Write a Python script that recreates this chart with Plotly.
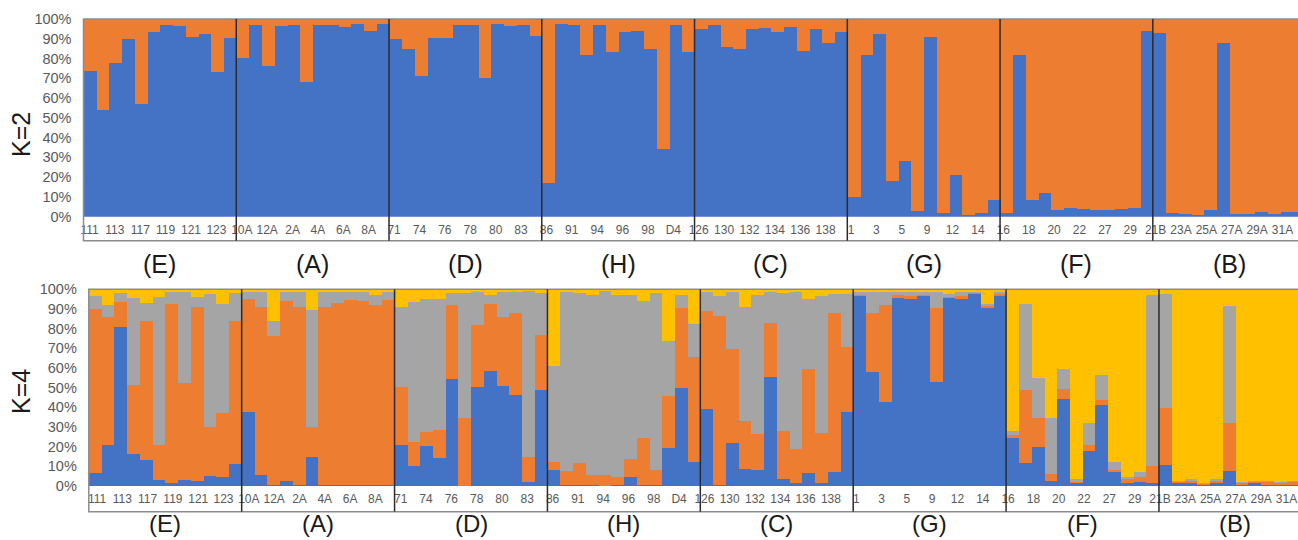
import plotly.graph_objects as go

# ---------------- data ----------------
groups = ["(E)", "(A)", "(D)", "(H)", "(C)", "(G)", "(F)", "(B)"]
group_size = [12, 12, 12, 12, 12, 12, 12, 12]

# tick labels (every second individual is labelled)
tick_labels = [
    "111", "113", "117", "119", "121", "123",
    "10A", "12A", "2A", "4A", "6A", "8A",
    "71", "74", "76", "78", "80", "83",
    "86", "91", "94", "96", "98", "D4",
    "126", "130", "132", "134", "136", "138",
    "1", "3", "5", "9", "12", "14",
    "16", "18", "20", "22", "27", "29",
    "21B", "23A", "25A", "27A", "29A", "31A",
]
y_tick_vals = [0, 10, 20, 30, 40, 50, 60, 70, 80, 90, 100]
y_tick_text = ["0%", "10%", "20%", "30%", "40%", "50%", "60%", "70%", "80%", "90%", "100%"]

# K=2 membership (%)
k2_cluster1 = [
    73.5, 54, 77.5, 90, 57, 93.5, 97, 96.5, 91, 92.5, 73, 90.5,
    80.5, 97, 76, 96.5, 97, 68, 97, 97, 96, 97.5, 94, 97.5,
    90, 85, 71, 90.5, 90.5, 97, 97, 70, 97.5, 96.5, 97, 91.5,
    17, 97.5, 97, 82, 97, 83.5, 93.5, 94, 85, 34, 97, 83.5,
    95, 97, 86, 85, 95, 95.5, 93.5, 96, 84, 95, 88, 93.5,
    10, 82, 92.5, 18, 28, 3, 91, 2, 21, 1, 2, 8.5,
    2, 82, 8.5, 12, 3.5, 4.5, 4, 3.5, 3.5, 4, 4.5, 94,
    93, 2, 1.5, 1, 3.5, 88, 1.5, 1.5, 2.5, 1.5, 2.5, 2.5,
]
k2_cluster2 = [
    26.5, 46, 22.5, 10, 43, 6.5, 3, 3.5, 9, 7.5, 27, 9.5,
    19.5, 3, 24, 3.5, 3, 32, 3, 3, 4, 2.5, 6, 2.5,
    10, 15, 29, 9.5, 9.5, 3, 3, 30, 2.5, 3.5, 3, 8.5,
    83, 2.5, 3, 18, 3, 16.5, 6.5, 6, 15, 66, 3, 16.5,
    5, 3, 14, 15, 5, 4.5, 6.5, 4, 16, 5, 12, 6.5,
    90, 18, 7.5, 82, 72, 97, 9, 98, 79, 99, 98, 91.5,
    98, 18, 91.5, 88, 96.5, 95.5, 96, 96.5, 96.5, 96, 95.5, 6,
    7, 98, 98.5, 99, 96.5, 12, 98.5, 98.5, 97.5, 98.5, 97.5, 97.5,
]

# K=4 membership (%)
k4_cluster1 = [
    6.5, 20.5, 80.5, 16, 13, 3, 1.5, 3, 2.5, 5, 4.5, 11,
    37.5, 5.5, 0.5, 2.5, 0.5, 14.5, 0.5, 0.5, 0.5, 0.5, 0.5, 0.5,
    20.5, 10, 20, 14, 54, 0, 50, 58.5, 50.5, 46, 2, 48.5,
    8, 0.5, 0.5, 0.5, 0, 0.5, 4.5, 0.5, 0.5, 19, 49.5, 12,
    39, 0.5, 21.5, 8.5, 8, 55.5, 3.5, 1.5, 6.5, 1.5, 7, 37.5,
    96.5, 58, 42.5, 95.5, 95, 96.5, 52.5, 95.5, 95, 97.5, 90.5, 96.5,
    24.5, 11.5, 19.5, 2.5, 44, 1.5, 17.5, 41, 7, 1.5, 2, 1.5,
    10.5, 1.5, 1.5, 0.5, 1.5, 7.5, 0.5, 1.5, 0.5, 0.5, 0.5, 0.5,
]
k4_cluster2 = [
    83.5, 65.5, 13, 35, 70.5, 17.5, 91, 49, 88.5, 25, 32.5, 72.5,
    57.5, 85.5, 75.5, 91.5, 90.5, 15.5, 90.5, 92.5, 94, 93.5, 91.5, 94,
    29.5, 12, 7.5, 14.5, 38, 34.5, 31.5, 34, 35.5, 42, 12.5, 28,
    4, 7, 11, 5, 5.5, 4, 9, 24, 7.5, 26.5, 41, 53.5,
    50, 86, 48, 24.5, 18.5, 27, 24.5, 17, 53, 25.5, 81, 33,
    0.5, 30, 49.5, 1.5, 1.5, 0.5, 38, 0.5, 1.5, 0.5, 1, 1,
    1.5, 37, 15, 3.5, 5, 0.5, 3, 2.5, 1, 2, 2.5, 8.5,
    29, 0.5, 1, 0.5, 1, 24.5, 1, 0.5, 1.5, 1, 1.5, 1,
]
k4_cluster3 = [
    6.5, 6, 4.5, 44.5, 9.5, 75.5, 6, 46.5, 5, 67.5, 55.5, 14.5,
    3.5, 7.5, 7.5, 4.5, 7.5, 59.5, 7.5, 5.5, 4, 4.5, 5, 4,
    41, 71.5, 67.5, 66.5, 6, 63.5, 17, 4.5, 12.5, 10.5, 84.5, 21.5,
    49, 91, 86.5, 91.5, 93.5, 92.5, 83.5, 69.5, 90, 28, 6.5, 16.5,
    9.5, 10, 29, 58, 70.5, 16, 70, 80, 35.5, 69.5, 9.5, 27,
    1.5, 10.5, 6.5, 1.5, 2, 1.5, 8, 1.5, 2, 0.5, 1, 1,
    2, 44, 20.5, 28.5, 10.5, 1.5, 11.5, 13, 4, 1, 2.5, 87,
    58, 0.5, 1, 0.5, 1, 59.5, 0.5, 0.5, 0.5, 0.5, 0.5, 0.5,
]
k4_cluster4 = [
    3.5, 8, 2, 4.5, 7, 4, 1.5, 1.5, 4, 2.5, 7.5, 2,
    1.5, 1.5, 16.5, 1.5, 1.5, 10.5, 1.5, 1.5, 1.5, 1.5, 3, 1.5,
    9, 6.5, 5, 5, 2, 2, 1.5, 3, 1.5, 1.5, 1, 2,
    39, 1.5, 2, 3, 1, 3, 3, 6, 2, 26.5, 3, 18,
    1.5, 3.5, 1.5, 9, 3, 1.5, 2, 1.5, 5, 3.5, 2.5, 2.5,
    1.5, 1.5, 1.5, 1.5, 1.5, 1.5, 1.5, 2.5, 1.5, 1.5, 7.5, 1.5,
    72, 7.5, 45, 65.5, 40.5, 96.5, 68, 43.5, 88, 95.5, 93, 3,
    2.5, 97.5, 96.5, 98.5, 96.5, 8.5, 98, 97.5, 97.5, 98, 97.5, 98,
]

colors = ["#4472C4", "#ED7D31", "#A5A5A5", "#FFC000"]

# ---------------- figure ----------------
W, H = 1298, 540
n = sum(group_size)
xs = list(range(n))

fig = go.Figure()

for i, vals in enumerate([k2_cluster1, k2_cluster2]):
    fig.add_trace(go.Bar(x=xs, y=vals, marker=dict(color=colors[i], line=dict(width=0)),
                         xaxis="x", yaxis="y", showlegend=False, hoverinfo="skip"))
for i, vals in enumerate([k4_cluster1, k4_cluster2, k4_cluster3, k4_cluster4]):
    fig.add_trace(go.Bar(x=xs, y=vals, marker=dict(color=colors[i], line=dict(width=0)),
                         xaxis="x2", yaxis="y2", showlegend=False, hoverinfo="skip"))

# pixel geometry of the two panels
top_left, top_top, top_bottom, top_strip = 83.5, 19.0, 216.7, 240.7
bot_left, bot_top, bot_bottom, bot_strip = 88.8, 289.3, 486.0, 511.7
top_bar_w, bot_bar_w = 12.73, 12.74
# pixel centres of the first and last tick label (labels are spread slightly tighter than bars)
top_lab_px = (89.5, 1282.5)
bot_lab_px = (97.0, 1286.5)

tick_font = dict(family="Liberation Sans, Arial", size=12, color="#595959")
ytick_font = dict(family="Liberation Sans, Arial", size=14.5, color="#595959")


def label_positions(left, barw, lab_px):
    a = (lab_px[0] - left) / barw - 0.5
    b = (lab_px[1] - left) / barw - 0.5
    m = len(tick_labels) - 1
    return [a + (b - a) * k / m for k in range(len(tick_labels))]


def xax(left, barw, anchor, lab_px):
    return dict(domain=[left / W, 1], range=[-0.5, -0.5 + (W - left) / barw],
                anchor=anchor, tickmode="array", tickvals=label_positions(left, barw, lab_px),
                ticktext=tick_labels,
                tickangle=0, tickfont=tick_font, ticks="", showgrid=False, zeroline=False,
                showline=False, fixedrange=True, ticklabelstandoff=4,
                ticklabeloverflow="allow", automargin=False)


def yax(top, bottom, anchor):
    return dict(domain=[(H - bottom) / H, (H - top) / H], range=[0, 100],
                anchor=anchor, tickmode="array", tickvals=y_tick_vals, ticktext=y_tick_text,
                tickfont=ytick_font, ticks="",
                showgrid=False, zeroline=False, showline=False, fixedrange=True,
                ticklabelstandoff=11, automargin=False)


fig.update_layout(
    width=W, height=H,
    margin=dict(l=0, r=0, t=0, b=0, pad=0),
    paper_bgcolor="white", plot_bgcolor="white",
    barmode="stack", bargap=0,
    xaxis=xax(top_left, top_bar_w, "y", top_lab_px),
    yaxis=yax(top_top, top_bottom, "x"),
    xaxis2=xax(bot_left, bot_bar_w, "y2", bot_lab_px),
    yaxis2=yax(bot_top, bot_bottom, "x2"),
)

shapes = []
annotations = []
panels = [("x", "y", top_top, top_bottom, top_strip, 264, 25, "K=2", 135),
          ("x2", "y2", bot_top, bot_bottom, bot_strip, 523.5, 24, "K=4", 392)]
for xr, yr, ptop, pbot, pstrip, glab_y, glab_size, klab, klab_y in panels:
    ph = pbot - ptop
    ylow = -(pstrip - pbot) / ph
    # outer frame including label strip
    shapes.append(dict(type="rect", xref=f"{xr} domain", yref=f"{yr} domain",
                       x0=0, x1=1.02, y0=ylow, y1=1,
                       line=dict(color="#8C8C8C", width=1.5), layer="above"))
    # group separators and group names
    pos = -0.5
    for gi, gs in enumerate(group_size):
        center = pos + gs / 2
        annotations.append(dict(x=center, xref=xr, y=(H - glab_y) / H, yref="paper",
                                text=groups[gi], showarrow=False,
                                font=dict(family="Liberation Sans, Arial", size=glab_size, color="#1a1a1a"),
                                xanchor="center", yanchor="middle", borderpad=0))
        pos += gs
        if gi < len(group_size) - 1:
            shapes.append(dict(type="line", xref=xr, yref=f"{yr} domain",
                               x0=pos, x1=pos, y0=ylow, y1=1,
                               line=dict(color="#2b2b2b", width=1.5), layer="above"))
    annotations.append(dict(x=21 / W, xref="paper", y=(H - klab_y) / H, yref="paper",
                            text=klab, showarrow=False, textangle=-90,
                            font=dict(family="Liberation Sans, Arial", size=25, color="#1a1a1a"),
                            xanchor="center", yanchor="middle"))

fig.update_layout(shapes=shapes, annotations=annotations)
fig.write_html("out.html")
